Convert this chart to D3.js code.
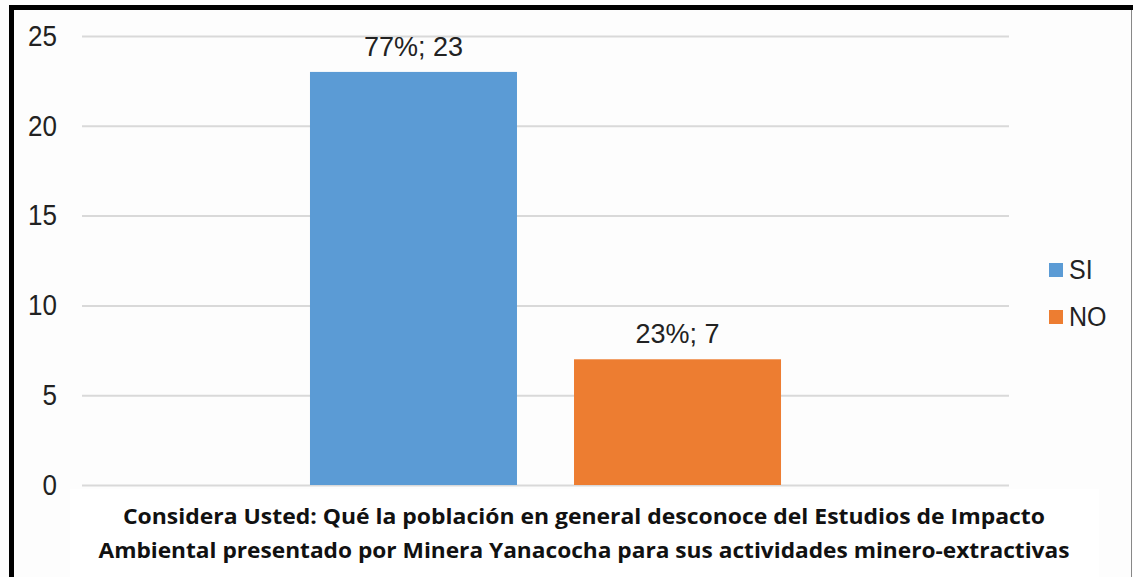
<!DOCTYPE html>
<html><head><meta charset="utf-8">
<script src="https://cdn.jsdelivr.net/npm/d3@7"></script>
<style>body{margin:0;background:#fff;} svg{display:block;}</style>
</head><body>
<svg id="chart" width="1133" height="577"></svg>
<script>
const categories = ["Considera Usted: Qué la población en general desconoce del Estudios de Impacto Ambiental presentado por Minera Yanacocha para sus actividades minero-extractivas"];
const seriesNames = ["SI", "NO"];
const seriesValues = [23, 7];
const seriesPercents = ["77%", "23%"];
const seriesColors = ["#5B9BD5", "#ED7D31"];
const yTicks = [0, 5, 10, 15, 20, 25];
const categoryLines = ["Considera Usted: Qué la población en general desconoce del Estudios de Impacto", "Ambiental presentado por Minera Yanacocha para sus actividades minero-extractivas"];

const svg = d3.select("#chart");
svg.append("rect").attr("width",1133).attr("height",577).attr("fill","#fdfdfd");

const plot = {left:82, right:1009, top:36, bottom:485};
const y = d3.scaleLinear().domain([0,25]).range([plot.bottom, plot.top]);
const x0 = d3.scaleBand().domain(categories).range([plot.left, plot.right]).paddingInner(0).paddingOuter(0.484);
const x1 = d3.scaleBand().domain(seriesNames).range([0, x0.bandwidth()]).paddingInner(0.216).paddingOuter(0);

// gridlines + tick labels
const yAxis = d3.axisLeft(y).tickValues(yTicks).tickSize(-(plot.right-plot.left)).tickPadding(25);
const ga = svg.append("g").attr("transform",`translate(${plot.left},0)`).call(yAxis);
ga.select(".domain").remove();
ga.selectAll(".tick line").attr("stroke","#d9d9d9").attr("stroke-width",2);
ga.selectAll(".tick text").attr("font-family","Liberation Sans, Arial, sans-serif").attr("font-size",26)
  .attr("fill","#222").attr("transform","scale(1,1.12)");

// bars
const g = svg.append("g");
seriesNames.forEach((s,i)=>{
  const bx = x0(categories[0]) + x1(s);
  g.append("rect").attr("x",bx).attr("y",y(seriesValues[i])).attr("width",x1.bandwidth())
    .attr("height",y(0)-y(seriesValues[i])).attr("fill",seriesColors[i]);
  g.append("text").attr("transform",`translate(${bx + x1.bandwidth()/2},${y(seriesValues[i])-16}) scale(1,1.05)`)
    .attr("text-anchor","middle").attr("font-family","Liberation Sans, Arial, sans-serif")
    .attr("font-size",27).attr("fill","#222").text(seriesPercents[i]+"; "+seriesValues[i]);
});

// category label box
svg.append("rect").attr("x",70).attr("y",489).attr("width",1029).attr("height",90).attr("fill","#fff");
const lineLens = [922, 971];
categoryLines.forEach((t,i)=>{
  svg.append("text").attr("x",584).attr("y",524+i*34).attr("text-anchor","middle")
    .attr("font-family","'Open Sans', Lato, sans-serif").attr("font-weight","bold")
    .attr("font-size",22).attr("fill","#111")
    .attr("textLength",lineLens[i]).attr("lengthAdjust","spacingAndGlyphs").text(t);
});

// legend
seriesNames.forEach((s,i)=>{
  const ly = 263 + i*47;
  svg.append("rect").attr("x",1049).attr("y",ly).attr("width",14).attr("height",14).attr("fill",seriesColors[i]);
  svg.append("text").attr("transform",`translate(1069,${ly+16}) scale(1,1.08)`).attr("font-family","Liberation Sans, Arial, sans-serif")
    .attr("font-size",25).attr("fill","#222").text(s);
});

// frame
svg.append("line").attr("x1",9).attr("x2",1133).attr("y1",7.5).attr("y2",7.5).attr("stroke","#000").attr("stroke-width",5);
svg.append("line").attr("x1",11.5).attr("x2",11.5).attr("y1",5).attr("y2",577).attr("stroke","#000").attr("stroke-width",5);
svg.append("line").attr("x1",1131.5).attr("x2",1131.5).attr("y1",10).attr("y2",577).attr("stroke","#888").attr("stroke-width",1);
</script>
</body></html>
